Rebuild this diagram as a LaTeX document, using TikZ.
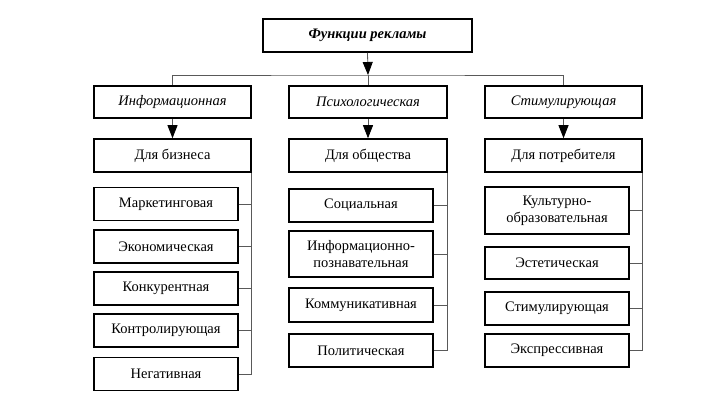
\documentclass[tikz,border=0pt]{standalone}
\usepackage{fontspec}
\setmainfont{Liberation Serif}
\usetikzlibrary{arrows.meta}
\begin{document}
\begin{tikzpicture}[x=1pt,y=-1pt,
  box/.style={draw=black, line width=1.6pt, fill=white, inner sep=1pt, align=center, font=\fontsize{14.5}{17}\selectfont},
  conn/.style={draw=black!65, line width=0.8pt},
  arr/.style={conn, -{Triangle[length=13pt,width=10pt,color=black]}}]
\useasboundingbox (0,0) rectangle (711,407);
% top
\node[box, minimum width=209pt, minimum height=33pt, font=\fontsize{14.5}{17}\selectfont\bfseries\itshape] (top) at (367.5,35.5) {Функции рекламы};
% level 2
\node[box, minimum width=157pt, minimum height=32pt, font=\fontsize{14.5}{17}\selectfont\itshape] (info) at (172.5,102) {Информационная};
\node[box, minimum width=158pt, minimum height=32pt, font=\fontsize{14.5}{17}\selectfont\itshape] (psy) at (368,102) {Психологическая};
\node[box, minimum width=157pt, minimum height=32pt, font=\fontsize{14.5}{17}\selectfont\itshape] (sti) at (563.5,102) {Стимулирующая};
% level 3
\node[box, minimum width=157pt, minimum height=33pt] (bus) at (172.5,155.5) {Для бизнеса};
\node[box, minimum width=158pt, minimum height=33pt] (soc) at (368,155.5) {Для общества};
\node[box, minimum width=157pt, minimum height=33pt] (con) at (563.5,155.5) {Для потребителя};
% left column
\node[box, minimum width=144pt, minimum height=33pt] (l1) at (166,204) {Маркетинговая};
\node[box, minimum width=144pt, minimum height=33pt] (l2) at (166,246.5) {Экономическая};
\node[box, minimum width=144pt, minimum height=33pt] (l3) at (166,288.5) {Конкурентная};
\node[box, minimum width=144pt, minimum height=33pt] (l4) at (166,330.5) {Контролирующая};
\node[box, minimum width=144pt, minimum height=33pt] (l5) at (166,374) {Негативная};
% middle column
\node[box, minimum width=144pt, minimum height=33pt] (m1) at (361,205.5) {Социальная};
\node[box, minimum width=144pt, minimum height=46pt] (m2) at (361,254) {Информационно-\\познавательная};
\node[box, minimum width=144pt, minimum height=34pt] (m3) at (361,305) {Коммуникативная};
\node[box, minimum width=144pt, minimum height=33pt] (m4) at (361,350.5) {Политическая};
% right column
\node[box, minimum width=144pt, minimum height=47pt] (r1) at (557,210.5) {Культурно-\\образовательная};
\node[box, minimum width=144pt, minimum height=32pt] (r2) at (557,263) {Эстетическая};
\node[box, minimum width=144pt, minimum height=33pt] (r3) at (557,308.5) {Стимулирующая};
\node[box, minimum width=144pt, minimum height=33pt] (r4) at (557,350.5) {Экспрессивная};
% connectors
\coordinate (hub) at (368,75);
\draw[conn] (info.north) |- (hub) -| (sti.north);
\draw[conn] (hub) -- (psy.north);
\draw[arr] (top.south) -- (hub);
\draw[arr] (info.south) -- (bus.north);
\draw[arr] (psy.south) -- (soc.north);
\draw[arr] (sti.south) -- (con.north);
% side buses
\draw[conn] (bus.south east) |- (l5.east);
\foreach \n in {l1,l2,l3,l4} \draw[conn] (\n.east) -- (\n.east -| bus.east);
\draw[conn] (soc.south east) |- (m4.east);
\foreach \n in {m1,m2,m3} \draw[conn] (\n.east) -- (\n.east -| soc.east);
\draw[conn] (con.south east) |- (r4.east);
\foreach \n in {r1,r2,r3} \draw[conn] (\n.east) -- (\n.east -| con.east);
\end{tikzpicture}
\end{document}
